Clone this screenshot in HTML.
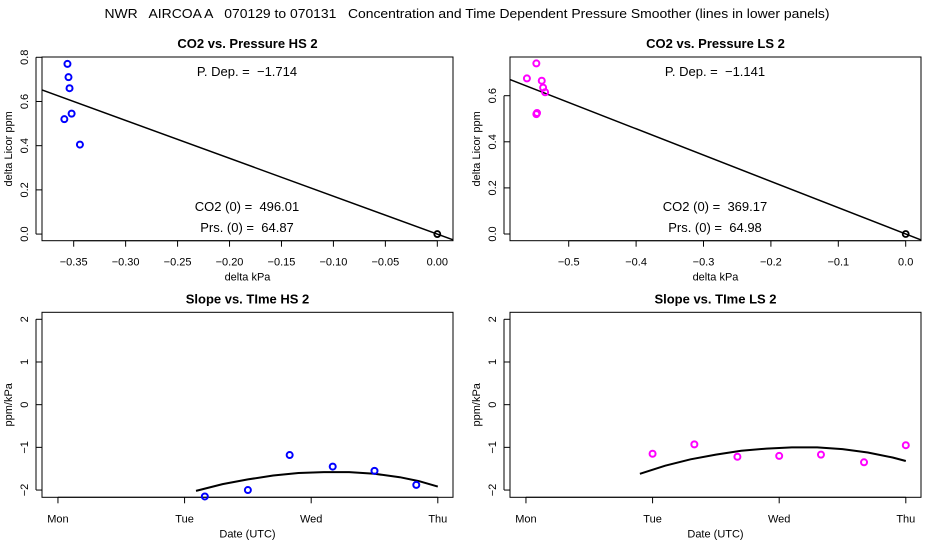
<!DOCTYPE html>
<html><head><meta charset="utf-8"><style>
body{margin:0;background:#fff}
svg{display:block;font-family:"Liberation Sans",sans-serif}
text{white-space:pre}
</style></head><body>
<svg id="c" width="936" height="540" viewBox="0 0 936 540">
<text x="467" y="18" font-size="13" text-anchor="middle" textLength="725" lengthAdjust="spacingAndGlyphs">NWR   AIRCOA A   070129 to 070131   Concentration and Time Dependent Pressure Smoother (lines in lower panels)</text>
</svg>
<script>
const hsPrsX=[-0.356,-0.355,-0.354,-0.359,-0.352,-0.344];
const hsPrsY=[0.77,0.71,0.66,0.52,0.545,0.405];
const lsPrsX=[-0.548,-0.562,-0.540,-0.538,-0.535,-0.548,-0.547];
const lsPrsY=[0.74,0.675,0.665,0.635,0.615,0.52,0.525];
const hsSlope=-1.714, lsSlope=-1.141;
const hsTimeX=[1.16,1.5,1.83,2.17,2.5,2.83];
const hsTimeY=[-2.15,-2.0,-1.18,-1.45,-1.55,-1.88];
const hsCurveX=[1.09,1.3,1.5,1.7,1.9,2.1,2.3,2.5,2.7,2.85,3.0];
const hsCurveY=[-2.02,-1.86,-1.75,-1.66,-1.6,-1.58,-1.58,-1.62,-1.7,-1.79,-1.92];
const lsTimeX=[1.0,1.33,1.67,2.0,2.33,2.67,3.0];
const lsTimeY=[-1.15,-0.93,-1.22,-1.2,-1.17,-1.35,-0.95];
const lsCurveX=[0.9,1.1,1.3,1.5,1.7,1.9,2.1,2.3,2.5,2.7,2.9,3.0];
const lsCurveY=[-1.62,-1.43,-1.28,-1.17,-1.08,-1.03,-1.0,-1.0,-1.04,-1.12,-1.24,-1.32];
const hsXTicks=[-0.35,-0.30,-0.25,-0.20,-0.15,-0.10,-0.05,0.00];
const hsXLabels=["\u22120.35","\u22120.30","\u22120.25","\u22120.20","\u22120.15","\u22120.10","\u22120.05","0.00"];
const hsYTicks=[0,0.2,0.4,0.6,0.8];
const hsYLabels=["0.0","0.2","0.4","0.6","0.8"];
const lsXTicks=[-0.5,-0.4,-0.3,-0.2,-0.1,0.0];
const lsXLabels=["\u22120.5","\u22120.4","\u22120.3","\u22120.2","\u22120.1","0.0"];
const lsYTicks=[0,0.2,0.4,0.6];
const lsYLabels=["0.0","0.2","0.4","0.6"];
const dayTicks=[0,1,2,3];
const dayLabels=["Mon","Tue","Wed","Thu"];
const slopeTicks=[-2,-1,0,1,2];
const slopeLabels=["\u22122","\u22121","0","1","2"];

const svg=document.getElementById('c');
const NS='http://www.w3.org/2000/svg';
function mk(tag,at,parent){const e=document.createElementNS(NS,tag);for(const k in at)e.setAttribute(k,at[k]);(parent||svg).appendChild(e);return e;}
function txt(x,y,s,size,opt,parent){const t=mk('text',Object.assign({x:x,y:y,'font-size':size,'text-anchor':'middle'},opt||{}),parent);t.textContent=s;return t;}

function panel(o){
  const g=mk('g',{});
  
  
  const L=o.ox+42,R=o.ox+453,T=o.top,B=o.bot;
  const sx=v=>L+(v-o.xmin)/(o.xmax-o.xmin)*(R-L);
  const sy=v=>B-(v-o.ymin)/(o.ymax-o.ymin)*(B-T);
  const box=mk('rect',{x:L,y:T,width:R-L,height:B-T,fill:'none',stroke:'#000','stroke-width':1},g);
  
  
  const tt=txt((L+R)/2,T-9,o.title,13,{'font-weight':'bold'},g);
  
  
  o.xt.forEach((v,i)=>{const x=sx(v);mk('line',{x1:x,x2:x,y1:B,y2:B+6,stroke:'#000'},g);
    const t=txt(x,B+25,o.xl[i],11,{},g);
    
    });
  mk('line',{x1:sx(o.xt[0]),x2:sx(o.xt[o.xt.length-1]),y1:B,y2:B,stroke:'#000'},g);
  o.yt.forEach((v,i)=>{const y=sy(v);mk('line',{x1:L-6,x2:L,y1:y,y2:y,stroke:'#000'},g);
    const t=txt(0,0,o.yl[i],11,{transform:`translate(${L-14},${y}) rotate(-90)`},g);
    
    });
  mk('line',{x1:L-6,x2:L-6,y1:sy(o.yt[0]),y2:sy(o.yt[o.yt.length-1]),stroke:'#000'},g);
  const xa=txt((L+R)/2,B+40,o.xlab,11,{},g);
  
  
  const ya=txt(0,0,o.ylab,11,{transform:`translate(${o.ox+12},${(T+B)/2}) rotate(-90)`},g);
  
  
  const cg=mk('g',{},g);
  if(o.slope!==undefined){
    const ln=mk('line',{x1:sx(o.xmin),y1:sy(o.slope*o.xmin),x2:sx(o.xmax),y2:sy(o.slope*o.xmax),stroke:'#000','stroke-width':1.5},cg);
    
    
    const z=mk('circle',{cx:sx(0),cy:sy(0),r:3,fill:'none',stroke:'#000','stroke-width':1.8},cg);
    
    
  }
  if(o.cx){
    const d=o.cx.map((v,i)=>(i?'L':'M')+sx(v).toFixed(1)+','+sy(o.cy[i]).toFixed(1)).join(' ');
    const p=mk('path',{d:d,fill:'none',stroke:'#000','stroke-width':2},cg);
    
    
  }
  const cp=mk('clipPath',{id:o.name+'-clip'},g);mk('rect',{x:L,y:T,width:R-L,height:B-T+4},cp);
  const pg=mk('g',{'clip-path':`url(#${o.name}-clip)`},g);
  o.px.forEach((v,i)=>{
    const c=mk('circle',{cx:sx(v),cy:sy(o.py[i]),r:3,fill:'none',stroke:o.col,'stroke-width':2},pg);
    
    
  });
  (o.notes||[]).forEach(n=>{const t=txt(o.ox+247,n[1],n[0],13,{},g);
    
    });
}
panel({name:'panel-co2-pressure-hs',ox:0,top:57,bot:240.7,xmin:-0.3805,xmax:0.0151,ymin:-0.030,ymax:0.8013,
 xt:hsXTicks,xl:hsXLabels,yt:hsYTicks,yl:hsYLabels,title:'CO2 vs. Pressure HS 2',xlab:'delta kPa',ylab:'delta Licor ppm',
 slope:hsSlope,px:hsPrsX,py:hsPrsY,col:'#0000ff',notes:[['P. Dep. =  \u22121.714',76],['CO2 (0) =  496.01',211],['Prs. (0) =  64.87',232]]});
panel({name:'panel-co2-pressure-ls',ox:468,top:57,bot:240.7,xmin:-0.5871,xmax:0.0227,ymin:-0.0291,ymax:0.7679,
 xt:lsXTicks,xl:lsXLabels,yt:lsYTicks,yl:lsYLabels,title:'CO2 vs. Pressure LS 2',xlab:'delta kPa',ylab:'delta Licor ppm',
 slope:lsSlope,px:lsPrsX,py:lsPrsY,col:'#ff00ff',notes:[['P. Dep. =  \u22121.141',76],['CO2 (0) =  369.17',211],['Prs. (0) =  64.98',232]]});
panel({name:'panel-slope-time-hs',ox:0,top:312.3,bot:497.3,xmin:-0.126,xmax:3.12,ymin:-2.17,ymax:2.164,
 xt:dayTicks,xl:dayLabels,yt:slopeTicks,yl:slopeLabels,title:'Slope vs. TIme HS 2',xlab:'Date (UTC)',ylab:'ppm/kPa',
 px:hsTimeX,py:hsTimeY,cx:hsCurveX,cy:hsCurveY,col:'#0000ff'});
panel({name:'panel-slope-time-ls',ox:468,top:312.3,bot:497.3,xmin:-0.126,xmax:3.12,ymin:-2.17,ymax:2.164,
 xt:dayTicks,xl:dayLabels,yt:slopeTicks,yl:slopeLabels,title:'Slope vs. TIme LS 2',xlab:'Date (UTC)',ylab:'ppm/kPa',
 px:lsTimeX,py:lsTimeY,cx:lsCurveX,cy:lsCurveY,col:'#ff00ff'});
</script>
</body></html>
